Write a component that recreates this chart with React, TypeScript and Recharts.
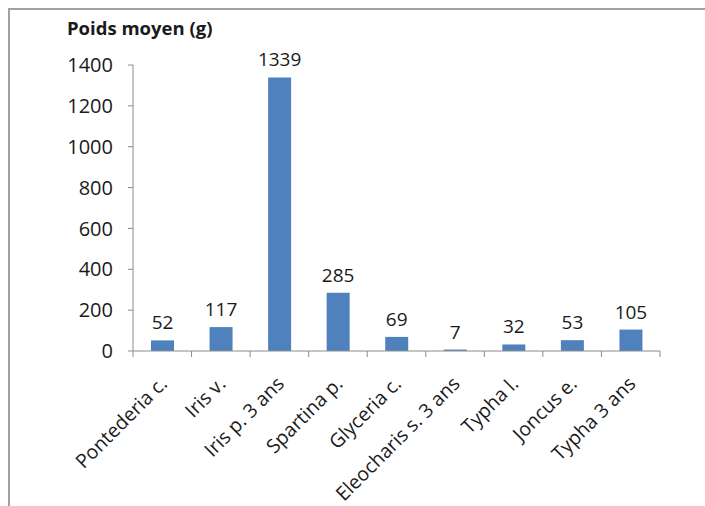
import React from 'react';
import { BarChart, Bar, XAxis, YAxis, LabelList } from 'recharts';

const categories = ['Pontederia c.', 'Iris v.', 'Iris p. 3 ans', 'Spartina p.', 'Glyceria c.', 'Eleocharis s. 3 ans', 'Typha l.', 'Joncus e.', 'Typha 3 ans'];
const values = [52, 117, 1339, 285, 69, 7, 32, 53, 105];
const yTicks = [0, 200, 400, 600, 800, 1000, 1200, 1400];

const data = categories.map((name, i) => ({ name, value: values[i] }));

const FONT = '"Open Sans", "Noto Sans", sans-serif';
const AXIS = '#8c8c8c';
const TEXT = '#1a1a1a';

const XTick = (props: any) => {
  const { x, y, payload, index, width, visibleTicksCount } = props;
  const w = width / visibleTicksCount;
  return (
    <g>
      <line x1={x - w / 2} y1={y} x2={x - w / 2} y2={y + 6} stroke={AXIS} strokeWidth={1} />
      {index === visibleTicksCount - 1 && (
        <line x1={x + w / 2} y1={y} x2={x + w / 2} y2={y + 6} stroke={AXIS} strokeWidth={1} />
      )}
      <text
        x={x + 6}
        y={y + 34}
        textAnchor="end"
        transform={`rotate(-45, ${x + 6}, ${y + 34})`}
        fontSize={19.5}
        fontFamily={FONT}
        fill={TEXT}
      >
        {payload.value}
      </text>
    </g>
  );
};

export default function App() {
  return (
    <div style={{ position: 'absolute', left: 0, top: 0, width: 705, height: 506, background: '#fff', overflow: 'hidden' }}>
      <div style={{ position: 'absolute', left: 8, top: 8, width: 720, height: 520, borderLeft: '2px solid #a0a0a0', borderTop: '2px solid #a0a0a0', boxSizing: 'border-box' }} />
      <div style={{ position: 'absolute', left: 67, top: 16, fontFamily: FONT, fontWeight: 700, fontSize: 18.5, color: TEXT, whiteSpace: 'nowrap', lineHeight: '24px' }}>
        Poids moyen (g)
      </div>
      <div style={{ position: 'absolute', left: 0, top: 0 }}>
        <BarChart width={705} height={506} data={data} margin={{ top: 65, right: 45, left: 0, bottom: 0 }}>
          <YAxis
            width={133}
            domain={[0, 1400]}
            ticks={yTicks}
            interval={0}
            axisLine={{ stroke: AXIS }}
            tickLine={{ stroke: AXIS }}
            tickSize={5}
            tickMargin={15}
            tick={{ fontSize: 20, fontFamily: FONT, fill: TEXT }}
          />
          <XAxis
            dataKey="name"
            height={155}
            interval={0}
            axisLine={{ stroke: AXIS }}
            tickLine={false}
            tickSize={0}
            tickMargin={0}
            tick={<XTick />}
          />
          <Bar dataKey="value" fill="#4f81bd" barSize={23} isAnimationActive={false}>
            <LabelList dataKey="value" position="top" offset={11} fontSize={19} fontFamily={FONT} fill={TEXT} />
          </Bar>
        </BarChart>
      </div>
    </div>
  );
}
